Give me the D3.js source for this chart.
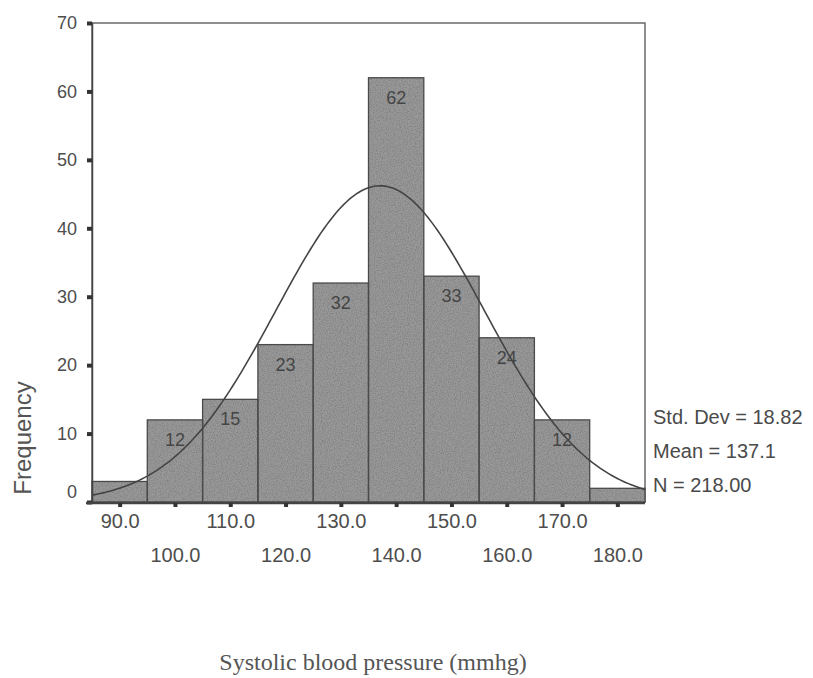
<!DOCTYPE html>
<html>
<head>
<meta charset="utf-8">
<script src="https://cdn.jsdelivr.net/npm/d3@7"></script>
<style>
  body { margin: 0; background: #fff; }
  text { font-family: Arial, "Liberation Sans", sans-serif; fill: #4d4d4d; }
</style>
</head>
<body>
<div id="chart"></div>
<script>
// histogram bins (centers, width 10) and counts
const binCenters = [90, 100, 110, 120, 130, 140, 150, 160, 170, 180];
const counts = [3, 12, 15, 23, 32, 62, 33, 24, 12, 2];
const binWidth = 10;
const yTicks = [0, 10, 20, 30, 40, 50, 60, 70];
const xTickLabels = ["90.0", "100.0", "110.0", "120.0", "130.0", "140.0", "150.0", "160.0", "170.0", "180.0"];
const stdDev = 18.82, mean = 137.1, nTotal = 218;
const statLines = ["Std. Dev = 18.82", "Mean = 137.1", "N = 218.00"];
const xTitle = "Systolic blood pressure (mmhg)";
const yTitle = "Frequency";

const W = 813, H = 678;
const margin = {top: 23, right: 168, bottom: 176, left: 92},
    width = W - margin.left - margin.right,
    height = H - margin.top - margin.bottom;

const svg = d3.select("#chart")
    .append("svg")
    .attr("width", W)
    .attr("height", H);

// speckled grey fill like the scanned print
const defs = svg.append("defs");
const f = defs.append("filter").attr("id", "grain")
    .attr("x", 0).attr("y", 0).attr("width", 1).attr("height", 1)
    .attr("color-interpolation-filters", "sRGB");
f.append("feTurbulence").attr("type", "fractalNoise")
    .attr("baseFrequency", 0.85).attr("numOctaves", 2).attr("seed", 3).attr("result", "noise");
f.append("feColorMatrix").attr("in", "noise").attr("type", "matrix")
    .attr("values", "0 0 0 0 0.4  0 0 0 0 0.4  0 0 0 0 0.4  1.1 0 0 0 -0.42")
    .attr("result", "dots");
f.append("feComposite").attr("in", "dots").attr("in2", "SourceGraphic").attr("operator", "in").attr("result", "dotsIn");
f.append("feMerge").call(m => {
    m.append("feMergeNode").attr("in", "SourceGraphic");
    m.append("feMergeNode").attr("in", "dotsIn");
});

const g = svg.append("g")
    .attr("transform", `translate(${margin.left},${margin.top})`);

const x = d3.scaleLinear()
    .domain([binCenters[0] - binWidth / 2, binCenters[binCenters.length - 1] + binWidth / 2])
    .range([0, width]);

const y = d3.scaleLinear()
    .domain([0, 70])
    .range([height, 0]);

const bins = binCenters.map((c, i) => ({center: c, count: counts[i]}));

// frame
g.append("rect")
    .attr("width", width)
    .attr("height", height)
    .attr("fill", "none")
    .attr("stroke", "#6a6a6a")
    .attr("stroke-width", 1.5);

// bars
g.selectAll("rect.bar")
    .data(bins)
    .enter()
    .append("rect")
    .attr("class", "bar")
    .attr("x", d => x(d.center - binWidth / 2))
    .attr("y", d => y(d.count))
    .attr("width", d => x(d.center + binWidth / 2) - x(d.center - binWidth / 2))
    .attr("height", d => y(0) - y(d.count))
    .attr("fill", "#999")
    .attr("filter", "url(#grain)");

g.selectAll("rect.edge")
    .data(bins)
    .enter()
    .append("rect")
    .attr("class", "edge")
    .attr("x", d => x(d.center - binWidth / 2))
    .attr("y", d => y(d.count))
    .attr("width", d => x(d.center + binWidth / 2) - x(d.center - binWidth / 2))
    .attr("height", d => y(0) - y(d.count))
    .attr("fill", "none")
    .attr("stroke", "#4a4a4a")
    .attr("stroke-width", 1.3);

// count labels (only bars tall enough)
g.selectAll("text.count")
    .data(bins.filter(d => d.count >= 10))
    .enter()
    .append("text")
    .attr("class", "count")
    .attr("x", d => x(d.center))
    .attr("y", d => y(d.count) + 26)
    .attr("text-anchor", "middle")
    .style("font-size", "18px")
    .style("fill", "#454545")
    .text(d => d.count);

// fitted normal curve from the printed mean / sd / N
const pdf = v => nTotal * binWidth / (stdDev * Math.sqrt(2 * Math.PI)) *
    Math.exp(-0.5 * ((v - mean) / stdDev) ** 2);
const curvePts = d3.range(x.domain()[0], x.domain()[1] + 0.01, 0.5).map(v => [v, pdf(v)]);

g.append("path")
    .datum(curvePts)
    .attr("fill", "none")
    .attr("stroke", "#444")
    .attr("stroke-width", 1.6)
    .attr("d", d3.line().x(d => x(d[0])).y(d => y(d[1])));

// y axis
const yAxis = g.append("g")
    .call(d3.axisLeft(y).tickValues(yTicks).tickSize(5).tickPadding(10).tickFormat(d3.format("d")));
yAxis.select(".domain").attr("stroke", "#444").attr("stroke-width", 1.5);
yAxis.selectAll(".tick line").attr("stroke", "#333").attr("stroke-width", 4);
yAxis.selectAll(".tick text")
    .style("font-size", "18px")
    .style("fill", "#4d4d4d")
    .attr("dy", d => d === 0 ? "-0.25em" : "0.32em");

// x axis: ticks at bin centres, labels staggered on two rows
const xAxis = g.append("g")
    .attr("transform", `translate(0,${height + 1})`)
    .call(d3.axisBottom(x).tickValues(binCenters).tickSize(4).tickFormat((d, i) => xTickLabels[i]));
xAxis.select(".domain").attr("stroke", "#444").attr("stroke-width", 2.5)
    .attr("d", `M-6,0H${width}`);
xAxis.selectAll(".tick line").attr("stroke", "#333").attr("stroke-width", 4);
xAxis.selectAll(".tick text")
    .style("font-size", "20px")
    .style("fill", "#4d4d4d")
    .attr("y", (d, i) => i % 2 === 0 ? 11 : 45);

// stats box on the right
g.append("g")
    .selectAll("text")
    .data(statLines)
    .enter()
    .append("text")
    .attr("x", width + 8)
    .attr("y", (d, i) => 401 + i * 34)
    .style("font-size", "20px")
    .style("fill", "#4a4a4a")
    .text(d => d);

// axis titles
svg.append("text")
    .attr("transform", "translate(31,438) rotate(-90)")
    .attr("text-anchor", "middle")
    .style("font-size", "24px")
    .style("fill", "#555")
    .text(yTitle);

svg.append("text")
    .attr("x", 373)
    .attr("y", 670)
    .attr("text-anchor", "middle")
    .style("font-family", "'Liberation Serif', 'Times New Roman', serif")
    .style("font-size", "24px")
    .style("fill", "#555")
    .text(xTitle);
</script>
</body>
</html>
